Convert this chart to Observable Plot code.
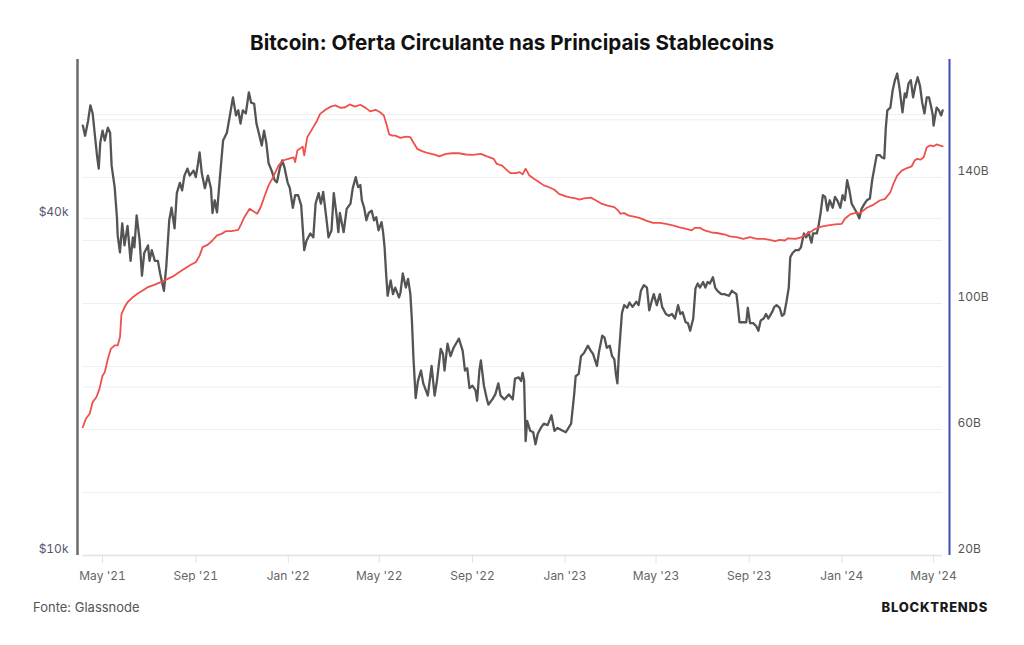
<!DOCTYPE html>
<html>
<head>
<meta charset="utf-8">
<script src="https://cdn.jsdelivr.net/npm/d3@7"></script>
<script src="https://cdn.jsdelivr.net/npm/@observablehq/plot@0.6"></script>
<style>
  html, body { margin: 0; padding: 0; background: #fff; }
  #chart { position: relative; width: 1024px; height: 645px; overflow: hidden; font-family: Inter, "Noto Sans", sans-serif; }
  #chart .layer { position: absolute; left: 0; top: 0; }
  #title { position: absolute; left: 0; top: 31px; width: 1024px; text-align: center; font-size: 20.6px; line-height: 24px; font-weight: 700; color: #111; }
  #source { position: absolute; left: 33px; top: 599px; font-size: 13px; line-height: 16px; color: #555; }
  #brand { position: absolute; right: 36px; top: 599px; font-size: 13px; line-height: 16px; font-weight: 800; letter-spacing: 0.75px; color: #1a1a1a; }
</style>
</head>
<body>
<div id="chart">
  <div id="title">Bitcoin: Oferta Circulante nas Principais Stablecoins</div>
  <div id="source">Fonte: Glassnode</div>
  <div id="brand">BLOCKTRENDS</div>
</div>
<script>
// Bitcoin price (USD)
const btcPrice = [
  ["2021-04-05",58600],["2021-04-08",56200],["2021-04-12",59800],["2021-04-15",63700],["2021-04-18",61600],
  ["2021-04-21",56200],["2021-04-24",51400],["2021-04-26",49100],["2021-04-28",54600],["2021-05-01",57400],
  ["2021-05-04",55100],["2021-05-08",58100],["2021-05-11",56900],["2021-05-13",49700],["2021-05-17",45500],
  ["2021-05-20",40200],["2021-05-21",37300],["2021-05-24",34800],["2021-05-27",39200],["2021-05-30",35800],
  ["2021-06-03",38800],["2021-06-07",33600],["2021-06-10",37000],["2021-06-12",35500],["2021-06-15",40500],
  ["2021-06-19",36500],["2021-06-22",31600],["2021-06-25",34700],["2021-06-30",35800],["2021-07-02",33600],
  ["2021-07-05",35100],["2021-07-09",33600],["2021-07-13",33600],["2021-07-16",31900],["2021-07-21",29700],
  ["2021-07-24",32700],["2021-07-28",39700],["2021-07-31",41800],["2021-08-04",38400],["2021-08-07",44400],
  ["2021-08-11",46300],["2021-08-14",44900],["2021-08-17",47700],["2021-08-21",49100],["2021-08-24",47700],
  ["2021-08-29",48700],["2021-09-01",47400],["2021-09-04",50200],["2021-09-06",52500],["2021-09-09",48100],
  ["2021-09-13",45300],["2021-09-17",47700],["2021-09-21",45300],["2021-09-23",40900],["2021-09-26",43100],
  ["2021-09-29",41000],["2021-10-03",47700],["2021-10-07",55100],["2021-10-12",56900],["2021-10-16",61100],
  ["2021-10-20",65800],["2021-10-24",61100],["2021-10-27",62400],["2021-10-30",59100],["2021-11-02",62400],
  ["2021-11-06",61600],["2021-11-10",67200],["2021-11-13",64400],["2021-11-17",64100],["2021-11-20",59100],
  ["2021-11-23",56900],["2021-11-27",54000],["2021-11-30",57400],["2021-12-03",54600],["2021-12-06",50200],
  ["2021-12-10",48700],["2021-12-14",46800],["2021-12-17",46400],["2021-12-21",49300],["2021-12-24",50800],
  ["2021-12-27",49300],["2021-12-31",46400],["2022-01-03",45300],["2022-01-07",41800],["2022-01-10",44000],
  ["2022-01-14",44000],["2022-01-18",42200],["2022-01-22",35100],["2022-01-25",36500],["2022-01-30",37600],
  ["2022-02-03",37000],["2022-02-06",42500],["2022-02-10",44400],["2022-02-13",42500],["2022-02-16",44600],
  ["2022-02-21",39200],["2022-02-23",37000],["2022-02-27",38100],["2022-03-02",44400],["2022-03-06",40200],
  ["2022-03-08",37800],["2022-03-10",40900],["2022-03-15",37800],["2022-03-19",41600],["2022-03-24",42500],
  ["2022-03-27",45300],["2022-03-31",47400],["2022-04-03",45500],["2022-04-06",45900],["2022-04-08",43100],
  ["2022-04-11",41800],["2022-04-14",39700],["2022-04-17",40900],["2022-04-21",41300],["2022-04-24",39700],
  ["2022-04-27",40200],["2022-04-30",38100],["2022-05-04",39400],["2022-05-06",37800],["2022-05-08",35500],
  ["2022-05-10",31900],["2022-05-12",29100],["2022-05-16",31000],["2022-05-19",29300],["2022-05-22",30100],
  ["2022-05-27",28900],["2022-05-29",29500],["2022-06-01",31900],["2022-06-05",30100],["2022-06-08",31200],
  ["2022-06-11",29300],["2022-06-13",26300],["2022-06-15",22600],["2022-06-18",19100],["2022-06-21",20500],
  ["2022-06-25",21400],["2022-06-28",20300],["2022-07-04",19300],["2022-07-09",21800],["2022-07-13",19300],
  ["2022-07-16",20500],["2022-07-21",23400],["2022-07-24",22900],["2022-07-26",21400],["2022-07-30",23900],
  ["2022-08-03",22700],["2022-08-07",23500],["2022-08-14",24400],["2022-08-19",23200],["2022-08-22",21400],
  ["2022-08-25",21600],["2022-08-28",19900],["2022-09-01",20100],["2022-09-05",19700],["2022-09-07",18900],
  ["2022-09-10",21400],["2022-09-12",22300],["2022-09-16",20100],["2022-09-20",19000],["2022-09-22",18600],
  ["2022-09-27",19000],["2022-10-01",19400],["2022-10-05",20300],["2022-10-08",19300],["2022-10-13",19000],
  ["2022-10-19",19400],["2022-10-24",19000],["2022-10-27",20700],["2022-11-01",20800],["2022-11-04",20500],
  ["2022-11-06",21200],["2022-11-08",20500],["2022-11-10",16000],["2022-11-12",17400],["2022-11-16",16700],
  ["2022-11-20",16600],["2022-11-23",15800],["2022-11-26",16500],["2022-11-30",16900],["2022-12-04",17200],
  ["2022-12-09",17100],["2022-12-14",17800],["2022-12-18",16700],["2022-12-22",16900],["2022-12-29",16700],
  ["2023-01-02",16600],["2023-01-09",17200],["2023-01-13",19400],["2023-01-15",20900],["2023-01-19",21100],
  ["2023-01-22",22700],["2023-01-26",23000],["2023-01-31",23700],["2023-02-04",23200],["2023-02-07",22900],
  ["2023-02-12",21800],["2023-02-15",23200],["2023-02-19",24700],["2023-02-22",24500],["2023-02-25",23500],
  ["2023-03-01",23700],["2023-03-04",22700],["2023-03-07",22400],["2023-03-09",21100],["2023-03-11",20300],
  ["2023-03-13",22900],["2023-03-15",24900],["2023-03-17",27100],["2023-03-20",28000],["2023-03-24",27700],
  ["2023-03-27",28300],["2023-03-31",27800],["2023-04-05",28400],["2023-04-08",28000],["2023-04-11",29700],
  ["2023-04-15",30400],["2023-04-19",30100],["2023-04-22",27400],["2023-04-25",28400],["2023-04-28",29300],
  ["2023-05-02",28000],["2023-05-06",29300],["2023-05-09",27800],["2023-05-14",27000],["2023-05-18",26800],
  ["2023-05-22",27000],["2023-05-26",26500],["2023-05-30",28000],["2023-06-02",27000],["2023-06-05",27200],
  ["2023-06-09",26100],["2023-06-12",26000],["2023-06-15",25200],["2023-06-19",26500],["2023-06-22",30000],
  ["2023-06-25",30600],["2023-06-28",30100],["2023-07-02",30800],["2023-07-05",30100],["2023-07-08",30800],
  ["2023-07-11",30600],["2023-07-15",31400],["2023-07-18",30100],["2023-07-21",29700],["2023-07-26",29300],
  ["2023-07-30",29300],["2023-08-05",29100],["2023-08-09",29700],["2023-08-15",29300],["2023-08-17",27800],
  ["2023-08-19",26100],["2023-08-24",26100],["2023-08-28",26100],["2023-08-30",27700],["2023-09-02",26000],
  ["2023-09-06",26000],["2023-09-10",25700],["2023-09-13",25200],["2023-09-16",26300],["2023-09-20",26500],
  ["2023-09-23",27000],["2023-09-26",26500],["2023-10-01",27200],["2023-10-04",27800],["2023-10-07",28000],
  ["2023-10-11",27700],["2023-10-14",26800],["2023-10-17",27000],["2023-10-20",28400],["2023-10-23",30100],
  ["2023-10-25",34100],["2023-10-28",34700],["2023-11-01",35100],["2023-11-05",35100],["2023-11-08",35500],
  ["2023-11-12",37600],["2023-11-15",37000],["2023-11-18",37800],["2023-11-22",36200],["2023-11-24",37600],
  ["2023-11-29",37600],["2023-12-01",38600],["2023-12-04",40900],["2023-12-07",44000],["2023-12-10",43700],
  ["2023-12-13",41300],["2023-12-16",43100],["2023-12-20",41800],["2023-12-23",43700],["2023-12-26",43100],
  ["2023-12-30",41800],["2024-01-02",44000],["2024-01-05",43100],["2024-01-08",46800],["2024-01-11",44900],
  ["2024-01-14",42500],["2024-01-17",41800],["2024-01-21",40900],["2024-01-24",40000],["2024-01-27",41600],
  ["2024-01-31",42500],["2024-02-03",43100],["2024-02-07",43400],["2024-02-10",46800],["2024-02-13",49300],
  ["2024-02-16",51900],["2024-02-20",51900],["2024-02-23",51400],["2024-02-26",51200],["2024-02-28",58100],
  ["2024-03-01",62400],["2024-03-05",63100],["2024-03-08",67700],["2024-03-11",70600],["2024-03-14",72600],
  ["2024-03-17",68500],["2024-03-19",65000],["2024-03-21",61900],["2024-03-24",66900],["2024-03-26",65800],
  ["2024-03-29",69700],["2024-04-01",70600],["2024-04-04",65800],["2024-04-07",69100],["2024-04-10",71500],
  ["2024-04-13",69100],["2024-04-16",64400],["2024-04-19",61600],["2024-04-22",65800],["2024-04-25",65800],
  ["2024-04-28",63100],["2024-04-30",61100],["2024-05-01",58600],["2024-05-05",63100],["2024-05-08",62400],
  ["2024-05-11",61100],["2024-05-13",62400]
];

// Circulating supply of the top stablecoins (billions USD)
const stableSupply = [
  ["2021-04-05",60.7],["2021-04-09",63.4],["2021-04-14",65.0],["2021-04-18",68.7],["2021-04-23",70.3],
  ["2021-04-27",72.9],["2021-05-01",77.1],["2021-05-04",78.2],["2021-05-08",82.4],["2021-05-12",85.6],
  ["2021-05-17",86.7],["2021-05-21",86.7],["2021-05-24",89.3],["2021-05-26",96.7],["2021-05-30",98.8],
  ["2021-06-03",100.4],["2021-06-10",102.0],["2021-06-16",103.1],["2021-06-23",104.1],["2021-06-30",105.2],
  ["2021-07-09",106.0],["2021-07-20",107.1],["2021-07-26",107.8],["2021-08-02",108.6],["2021-08-08",109.6],
  ["2021-08-17",111.0],["2021-08-26",112.4],["2021-09-01",113.1],["2021-09-06",115.2],["2021-09-10",117.9],
  ["2021-09-17",118.7],["2021-09-23",120.0],["2021-09-29",121.6],["2021-10-05",122.1],["2021-10-11",123.0],
  ["2021-10-18",123.0],["2021-10-27",123.4],["2021-10-31",125.3],["2021-11-04",127.4],["2021-11-11",130.1],
  ["2021-11-18",129.0],["2021-11-21",128.5],["2021-11-26",130.8],["2021-12-01",134.3],["2021-12-06",137.5],
  ["2021-12-12",140.1],["2021-12-19",143.8],["2021-12-25",145.4],["2022-01-01",145.9],["2022-01-08",146.4],
  ["2022-01-10",144.9],["2022-01-13",148.6],["2022-01-20",149.8],["2022-01-22",147.0],["2022-01-26",152.8],
  ["2022-01-30",154.4],["2022-02-03",156.0],["2022-02-08",158.1],["2022-02-12",160.2],["2022-02-19",161.5],
  ["2022-02-26",162.5],["2022-03-04",162.9],["2022-03-11",162.1],["2022-03-17",162.3],["2022-03-23",163.2],
  ["2022-03-30",162.5],["2022-04-06",163.1],["2022-04-13",162.1],["2022-04-19",161.0],["2022-04-26",161.5],
  ["2022-05-02",160.7],["2022-05-07",159.7],["2022-05-11",156.5],["2022-05-14",153.7],["2022-05-18",153.3],
  ["2022-05-22",153.3],["2022-05-29",152.6],["2022-06-05",153.0],["2022-06-11",152.8],["2022-06-16",150.7],
  ["2022-06-20",149.1],["2022-06-27",148.3],["2022-07-05",147.7],["2022-07-14",147.2],["2022-07-19",146.7],
  ["2022-07-28",147.5],["2022-08-05",147.7],["2022-08-14",147.7],["2022-08-23",147.3],["2022-09-01",147.2],
  ["2022-09-12",147.5],["2022-09-20",146.7],["2022-09-29",145.9],["2022-10-03",144.3],["2022-10-10",143.8],
  ["2022-10-17",142.2],["2022-10-21",141.4],["2022-10-28",141.4],["2022-11-02",141.7],["2022-11-06",141.0],
  ["2022-11-10",142.8],["2022-11-15",140.6],["2022-11-21",139.6],["2022-11-28",138.5],["2022-12-04",137.5],
  ["2022-12-11",136.9],["2022-12-18",136.1],["2022-12-24",134.8],["2023-01-02",134.0],["2023-01-09",133.6],
  ["2023-01-15",133.4],["2023-01-20",133.0],["2023-01-26",133.4],["2023-02-04",133.6],["2023-02-11",132.7],
  ["2023-02-17",131.8],["2023-02-26",131.1],["2023-03-07",130.6],["2023-03-12",129.5],["2023-03-15",128.5],
  ["2023-03-20",128.7],["2023-03-26",127.9],["2023-04-02",127.6],["2023-04-09",127.2],["2023-04-18",126.3],
  ["2023-04-27",125.6],["2023-05-06",125.6],["2023-05-14",125.3],["2023-05-23",124.8],["2023-06-01",124.2],
  ["2023-06-10",123.7],["2023-06-17",123.2],["2023-06-21",124.0],["2023-06-28",124.0],["2023-07-04",123.2],
  ["2023-07-13",122.6],["2023-07-22",122.3],["2023-07-31",121.9],["2023-08-06",121.3],["2023-08-15",121.1],
  ["2023-08-24",120.5],["2023-09-02",121.1],["2023-09-11",120.5],["2023-09-20",120.5],["2023-09-28",120.2],
  ["2023-10-05",119.8],["2023-10-11",120.2],["2023-10-18",120.0],["2023-10-22",120.7],["2023-11-01",120.5],
  ["2023-11-09",121.1],["2023-11-18",122.3],["2023-11-27",123.7],["2023-12-05",124.4],["2023-12-14",124.8],
  ["2023-12-23",125.1],["2024-01-01",125.3],["2024-01-05",126.9],["2024-01-12",128.3],["2024-01-18",128.7],
  ["2024-01-25",128.7],["2024-02-03",130.4],["2024-02-12",131.4],["2024-02-20",132.7],["2024-02-27",133.2],
  ["2024-03-05",135.3],["2024-03-09",138.0],["2024-03-14",140.6],["2024-03-20",142.2],["2024-03-27",143.0],
  ["2024-04-02",143.5],["2024-04-06",145.4],["2024-04-09",145.9],["2024-04-14",145.7],["2024-04-18",146.4],
  ["2024-04-22",149.6],["2024-04-27",150.2],["2024-05-01",149.9],["2024-05-05",150.5],["2024-05-09",150.2],
  ["2024-05-13",149.9]
];

// Axis ticks and gridlines
const xTickDates = ["2021-05-01","2021-09-01","2022-01-01","2022-05-01","2022-09-01","2023-01-01","2023-05-01","2023-09-01","2024-01-01","2024-05-01"];
const xTickLabels = ["May '21","Sep '21","Jan '22","May '22","Sep '22","Jan '23","May '23","Sep '23","Jan '24","May '24"];
const priceTicks = [10000, 40000];
const priceTickLabels = ["$10k", "$40k"];
const priceGrid = [20000, 40000, 60000];
const supplyTicks = [20, 60, 100, 140];
const supplyTickLabels = ["20B", "60B", "100B", "140B"];
const supplyGrid = [40, 60, 80, 100, 120, 140, 160];

const parse = d3.utcParse("%Y-%m-%d");
const btc = btcPrice.map(([d, v]) => ({date: parse(d), value: v}));
const supply = stableSupply.map(([d, v]) => ({date: parse(d), value: v}));
const xTicks = xTickDates.map(parse);
const xLabel = new Map(xTickDates.map((d, i) => [+parse(d), xTickLabels[i]]));
const priceLabel = new Map(priceTicks.map((d, i) => [d, priceTickLabels[i]]));
const supplyLabel = new Map(supplyTicks.map((d, i) => [d, supplyTickLabels[i]]));

const xDomain = [parse("2021-03-29"), parse("2024-05-22")];
const firstDate = btc[0].date, lastDate = btc[btc.length - 1].date;

const frame = {
  width: 1024, height: 600,
  marginLeft: 77, marginRight: 75, marginTop: 59, marginBottom: 45
};
const baseStyle = {background: "transparent", fontFamily: "Inter, 'Noto Sans', sans-serif", fontSize: "12px", overflow: "visible"};
const xScale = {type: "utc", domain: xDomain, axis: null};
const priceScale = {type: "log", domain: [10000, 76900], axis: null};
const supplyScale = {type: "linear", domain: [20, 177.46], axis: null};

// Layer 1: supply gridlines, baseline and right-hand labels
const gridLayer = Plot.plot({
  ...frame, style: baseStyle, x: xScale, y: supplyScale,
  marks: [
    Plot.ruleY(supplyGrid, {x1: firstDate, x2: lastDate, stroke: "#efefef", strokeWidth: 1}),
    Plot.ruleY([20], {x1: firstDate, x2: lastDate, stroke: "#e2e2e2", strokeWidth: 1.5}),
    Plot.axisY({anchor: "right", ticks: supplyTicks, tickFormat: d => supplyLabel.get(d), tickSize: 0, tickPadding: 8, dy: -6, fill: "#555", label: null})
  ]
});

// Layer 2: bitcoin price on a log scale, with the date axis
const priceLayer = Plot.plot({
  ...frame, style: baseStyle, x: xScale, y: priceScale,
  marks: [
    Plot.ruleY(priceGrid, {x1: firstDate, x2: lastDate, stroke: "#efefef", strokeWidth: 1}),
    Plot.axisX({ticks: xTicks, tickFormat: d => xLabel.get(+d), tickSize: 8, tickPadding: 8, stroke: "#e2e2e2", fill: "#666", label: null}),
    Plot.line(btc, {x: "date", y: "value", stroke: "#545454", strokeWidth: 2.3, strokeLinejoin: "round"}),
    Plot.axisY({anchor: "left", ticks: priceTicks, tickFormat: d => priceLabel.get(d), tickSize: 0, tickPadding: 9, dy: -6, fill: "#5b5670", label: null}),
    Plot.ruleX([xDomain[0]], {stroke: "#6b6b6b", strokeWidth: 2.5})
  ]
});

// Layer 3: stablecoin supply on a linear scale
const supplyLayer = Plot.plot({
  ...frame, style: baseStyle, x: xScale, y: supplyScale,
  marks: [
    Plot.line(supply, {x: "date", y: "value", stroke: "#f0504c", strokeWidth: 1.8, strokeLinejoin: "round"}),
    Plot.ruleX([xDomain[1]], {stroke: "#3d4cb8", strokeWidth: 2})
  ]
});

const chart = document.getElementById("chart");
for (const layer of [gridLayer, priceLayer, supplyLayer]) {
  layer.classList.add("layer");
  chart.appendChild(layer);
}
</script>
</body>
</html>
